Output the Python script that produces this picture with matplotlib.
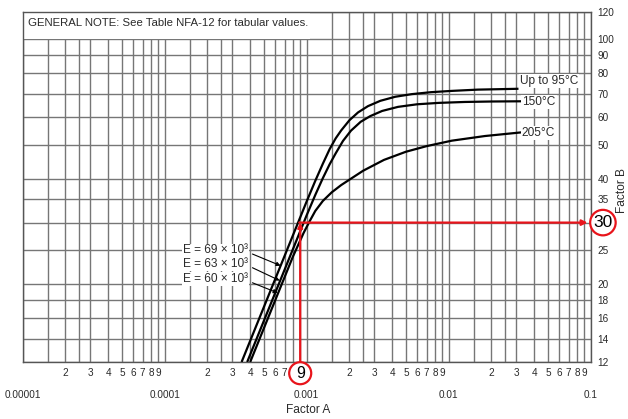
import matplotlib
matplotlib.use("Agg")
import matplotlib.pyplot as plt
from matplotlib.ticker import FixedLocator, FixedFormatter, NullLocator
from matplotlib.patches import Rectangle

plt.rcParams['font.family'] = ['Liberation Sans', 'DejaVu Sans']

# ---------------- data ----------------
curve_labels = ["Up to 95°C", "150°C", "205°C"]

a_95 = [3.48e-4, 1.0e-3, 1.15e-3, 1.3e-3, 1.45e-3, 1.6e-3, 1.75e-3, 2.0e-3, 2.3e-3,
        2.7e-3, 3.3e-3, 4.2e-3, 5.5e-3, 7.5e-3, 1.05e-2, 1.6e-2, 3.1e-2]
b_95 = [12, 34.5, 39.5, 44.2, 48.6, 52.2, 55.0, 58.8, 61.9,
        64.5, 66.8, 68.6, 69.8, 70.7, 71.3, 71.9, 72.3]

a_150 = [3.81e-4, 1.0e-3, 1.15e-3, 1.3e-3, 1.45e-3, 1.6e-3, 1.8e-3, 2.05e-3, 2.4e-3,
         2.8e-3, 3.4e-3, 4.4e-3, 6.0e-3, 8.5e-3, 1.3e-2, 2.0e-2, 3.27e-2]
b_150 = [12, 31.5, 36.0, 40.2, 44.0, 47.3, 51.3, 54.9, 58.2,
         60.4, 62.5, 64.2, 65.3, 65.9, 66.3, 66.5, 66.6]

a_205 = [4.0e-4, 8.0e-4, 9.5e-4, 1.05e-3, 1.15e-3, 1.3e-3, 1.5e-3, 1.75e-3, 2.1e-3,
         2.5e-3, 3.5e-3, 5.0e-3, 7.0e-3, 1.05e-2, 1.8e-2, 3.27e-2]
b_205 = [12, 24, 28, 30.3, 32.4, 34.6, 36.6, 38.4, 40.3,
         42.2, 45.3, 47.8, 49.6, 51.4, 53.0, 54.3]

e_labels = ["E = 69 × 10³", "E = 63 × 10³", "E = 60 × 10³"]

x_decades = [1e-5, 1e-4, 1e-3, 1e-2, 1e-1]
x_decade_labels = ["0.00001", "0.0001", "0.001", "0.01", "0.1"]
x_minor_mult = [1.5, 2, 2.5, 3, 4, 5, 6, 7, 8, 9]
y_ticks = [12, 14, 16, 18, 20, 25, 30, 35, 40, 50, 60, 70, 80, 90, 100, 120]

example_a = 9e-4
example_b = 30
note_text = "GENERAL NOTE: See Table NFA-12 for tabular values."

# ---------------- figure ----------------
W, H = 628, 419
fig = plt.figure(figsize=(W / 100, H / 100), dpi=100)
ax = fig.add_axes([22.7 / W, 57 / H, 568 / W, 350.3 / H])
ax.set_xscale('log')
ax.set_yscale('log')
ax.set_xlim(x_decades[0], x_decades[-1])
ax.set_ylim(y_ticks[0], y_ticks[-1])
ax.set_axisbelow(True)

txt_col = '#2a2a2a'
grid_col = '#767676'

# x ticks
minor_pos, minor_lab = [], []
for d in x_decades[:-1]:
    for m in x_minor_mult:
        minor_pos.append(m * d)
        if float(m).is_integer() and not abs(m * d - example_a) < 1e-9:
            minor_lab.append(str(int(m)))
        else:
            minor_lab.append("")
ax.xaxis.set_major_locator(FixedLocator(x_decades))
ax.xaxis.set_major_formatter(FixedFormatter(x_decade_labels))
ax.xaxis.set_minor_locator(FixedLocator(minor_pos))
ax.xaxis.set_minor_formatter(FixedFormatter(minor_lab))
ax.tick_params(axis='x', which='major', length=0, pad=20, labelsize=7.2, labelcolor=txt_col)
ax.tick_params(axis='x', which='minor', length=0, pad=4, labelsize=7.2, labelcolor=txt_col)

# y ticks on the right (the example value is shown circled instead)
ax.yaxis.tick_right()
ax.yaxis.set_major_locator(FixedLocator(y_ticks))
ax.yaxis.set_major_formatter(FixedFormatter(["" if v == example_b else str(v) for v in y_ticks]))
ax.yaxis.set_minor_locator(NullLocator())
ax.tick_params(axis='y', which='major', length=0, pad=5, labelsize=7.2, labelcolor=txt_col)

ax.grid(True, which='both', axis='x', color=grid_col, lw=1.0)
ax.grid(True, which='major', axis='y', color=grid_col, lw=1.0)
for s in ax.spines.values():
    s.set_color('#555555')
    s.set_linewidth(1.0)

# note box (covers the top row of the grid)
ax.add_patch(Rectangle((x_decades[0], 100), 1.055e-3 - x_decades[0], 20,
                       transform=ax.transData, facecolor='white', edgecolor='none', zorder=1.5))
ax.text(0.009, 0.968, note_text, transform=ax.transAxes, fontsize=8.2, color=txt_col,
        ha='left', va='center', zorder=3)

# curves
for a, b in [(a_95, b_95), (a_150, b_150), (a_205, b_205)]:
    ax.plot(a, b, color='black', lw=1.6, zorder=3, solid_capstyle='butt',
            solid_joinstyle='round')

# curve labels
lab_kw = dict(fontsize=8.6, color=txt_col, ha='left', va='center', zorder=4,
              bbox=dict(facecolor='white', edgecolor='none', pad=0.8))
ax.text(a_95[-1] * 1.02, b_95[-1] * 1.055, curve_labels[0], **lab_kw)
ax.text(a_150[-1] * 1.01, b_150[-1] * 0.995, curve_labels[1], **lab_kw)
ax.text(a_205[-1] * 1.0, b_205[-1] * 0.995, curve_labels[2], **lab_kw)

# E labels with arrows
e_text_b = [25.0, 22.9, 20.7]
e_arrow_from = [(4.15e-4, 24.4), (4.15e-4, 22.3), (4.15e-4, 20.2)]
e_arrow_to = [(6.55e-4, 22.6), (6.45e-4, 20.5), (6.25e-4, 18.9)]
for lab, yb, fr, to in zip(e_labels, e_text_b, e_arrow_from, e_arrow_to):
    ax.text(1.345e-4, yb, lab, fontsize=8.6, color=txt_col, ha='left', va='center', zorder=4,
            bbox=dict(facecolor='white', edgecolor='none', pad=0.6))
    ax.annotate('', xy=to, xytext=fr,
                arrowprops=dict(arrowstyle='-|>', color='black', lw=0.8,
                                mutation_scale=6, shrinkA=0, shrinkB=0), zorder=4)

# red example
red = '#e8141b'
ax.annotate('', xy=(example_a, example_b), xytext=(example_a, y_ticks[0]),
            arrowprops=dict(arrowstyle='-|>', color=red, lw=1.6, mutation_scale=7,
                            shrinkA=0, shrinkB=0), zorder=5)
ax.annotate('', xy=(0.095, example_b), xytext=(example_a * 0.985, example_b),
            arrowprops=dict(arrowstyle='-|>', color=red, lw=1.6, mutation_scale=8,
                            shrinkA=0, shrinkB=0), zorder=5, annotation_clip=False)
ax.text(1.0215, example_b, str(example_b), transform=ax.get_yaxis_transform(), fontsize=12.5,
        color='black', ha='center', va='center', zorder=6, clip_on=False,
        bbox=dict(boxstyle='circle,pad=0.18', facecolor='white', edgecolor=red, lw=1.6))
ax.text(example_a, -0.032, "9", transform=ax.get_xaxis_transform(), fontsize=11.5,
        color='black', ha='center', va='center', zorder=6, clip_on=False,
        bbox=dict(boxstyle='circle,pad=0.22', facecolor='white', edgecolor=red, lw=1.6))

# axis titles
ax.text(0.502, -0.137, "Factor A", transform=ax.transAxes, fontsize=8.6, color=txt_col,
        ha='center', va='center')
ax.text(1.0555, 0.49, "Factor B", transform=ax.transAxes, fontsize=8.6, color=txt_col,
        ha='center', va='center', rotation=90)

fig.savefig('out.png', dpi=100)
